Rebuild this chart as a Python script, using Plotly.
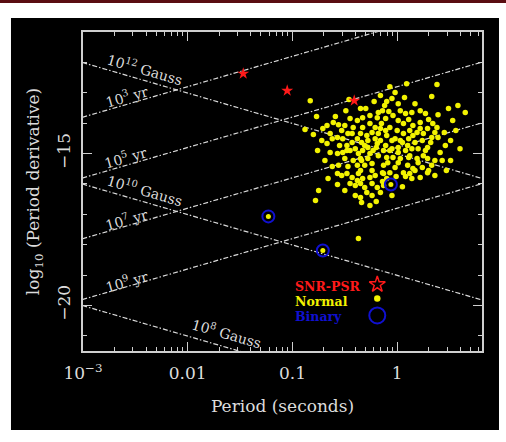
import numpy as np
import plotly.graph_objects as go

# ---- pulsar data: log10 period [s] and log10 period derivative [s/s] ----
normal_logp = [
    -0.83, -0.46, -0.77, -0.88, -0.07, 0.09, 0.38, 0.33, 0.17, 0.58,
    0.65, 0.39, -0.05, -0.10, -0.12, -0.22, -0.18, -0.59, -0.61, -0.56,
    -0.71, -0.80, -0.64, -0.53, -0.72, -0.67, -0.62, -0.57, -0.52, -0.47,
    -0.55, -0.48, -0.43, -0.64, -0.57, -0.52, -0.45, -0.40, -0.37, -0.33,
    -0.28, -0.23, -0.19, -0.34, -0.42, -0.31, -0.24, -0.62, -0.56, -0.47,
    -0.35, -0.38, -0.33, -0.26, -0.19, -0.42, -0.43, -0.38, -0.34, -0.28,
    -0.21, -0.18, -0.26, -0.21, -0.24, -0.33, -0.35, -0.29, -0.04, 0.30,
    0.34, -0.14, -0.11, -0.15, 0.01, 0.06, 0.11, 0.15, 0.22, 0.36,
    0.39, 0.25, 0.19, 0.12, 0.06, 0.00, -0.07, -0.10, -0.02, 0.05,
    0.11, 0.17, 0.24, 0.32, 0.29, 0.20, 0.14, 0.08, 0.01, -0.05,
    -0.11, 0.41, 0.51, 0.36, 0.25, 0.19, 0.11, 0.03, -0.04, -0.10,
    -0.13, -0.02, 0.10, 0.15, 0.24, 0.30, 0.06, -0.07, -0.57, -0.53,
    -0.48, -0.43, -0.37, -0.33, -0.26, -0.21, -0.57, -0.45, -0.40, -0.35,
    -0.31, -0.24, -0.19, -0.75, -0.78, -0.34, -0.35, -0.24, -0.26, -0.20,
    -0.37, -0.13, -0.01, 0.08, 0.12, 0.14, 0.29, -0.13, 0.05, -0.05,
    -0.14, 0.38, -0.50, -0.45, -0.30, -0.08, 0.03, 0.08, 0.14, 0.22,
    0.27, 0.01, 0.07, -0.16, -0.13, -0.18, -0.09, 0.01, 0.20, 0.33,
    0.29, 0.46, 0.45, 0.51, 0.47, 0.36, 0.22, -0.10, -0.16, -0.29,
    -0.50, -0.40, -0.66, -0.69, -0.76, -0.50, -0.38, -0.28, -0.16, -0.11,
    -0.05, 0.03, 0.10, 0.15, 0.22, 0.29, 0.33, 0.27, 0.12, 0.01,
    -0.07, -0.20, -0.26, -0.31, -0.48, -0.35, -0.24, -0.14, 0.17, 0.43,
    0.56, 0.60, 0.53, 0.49, -0.02, -0.16, -0.35, -0.49, -0.67, -0.38,
]
normal_logpdot = [
    -13.26, -13.22, -13.78, -14.21, -12.80, -12.70, -12.73, -13.12, -13.36, -13.42,
    -13.65, -13.72, -13.19, -13.29, -13.42, -13.29, -13.65, -13.78, -13.98, -14.05,
    -14.18, -14.37, -14.34, -14.24, -14.57, -14.67, -14.51, -14.47, -14.51, -14.34,
    -14.74, -14.74, -14.64, -14.97, -15.00, -14.97, -14.90, -14.84, -15.00, -14.90,
    -14.80, -14.90, -14.67, -15.23, -15.23, -15.39, -15.33, -15.43, -15.39, -15.43,
    -15.56, -13.91, -13.82, -13.75, -13.82, -14.14, -14.34, -14.51, -14.64, -14.57,
    -14.51, -14.34, -14.01, -14.14, -14.31, -14.14, -14.34, -14.41, -13.75, -13.88,
    -14.01, -13.59, -13.85, -14.01, -13.91, -14.01, -13.88, -14.08, -13.98, -14.31,
    -14.47, -14.34, -14.31, -14.24, -14.34, -14.24, -14.14, -14.41, -14.51, -14.64,
    -14.51, -14.64, -14.57, -14.64, -14.80, -14.84, -14.84, -14.90, -14.80, -14.84,
    -14.74, -14.97, -15.23, -15.23, -15.07, -15.16, -15.13, -15.16, -15.13, -15.13,
    -15.39, -15.46, -15.39, -15.49, -15.46, -15.56, -15.63, -15.63, -15.66, -15.72,
    -15.66, -15.79, -15.66, -15.82, -15.79, -15.72, -16.02, -15.99, -16.05, -15.99,
    -16.12, -15.99, -16.12, -16.22, -16.55, -16.61, -16.45, -16.38, -16.71, -16.58,
    -17.80, -15.66, -15.76, -15.76, -15.66, -15.82, -15.63, -16.05, -16.09, -16.38,
    -15.92, -14.14, -14.08, -13.85, -13.52, -13.62, -13.59, -13.68, -13.65, -13.59,
    -13.68, -13.36, -13.16, -14.57, -14.90, -15.07, -15.30, -15.30, -15.30, -15.39,
    -15.16, -14.74, -14.31, -14.57, -15.56, -15.72, -15.79, -15.82, -16.28, -16.28,
    -16.22, -16.38, -15.82, -15.23, -14.90, -15.16, -15.39, -15.16, -14.18, -14.24,
    -14.57, -14.57, -14.74, -14.41, -14.18, -14.18, -14.47, -14.90, -15.07, -14.97,
    -14.90, -14.80, -15.00, -14.74, -14.90, -15.16, -15.56, -15.63, -15.56, -15.23,
    -14.24, -14.84, -13.91, -13.52, -12.99, -13.09, -13.52, -13.59, -14.08, -15.89,
]

binary_logp = [-1.23, -0.71, -0.06]
binary_logpdot = [-17.07, -18.19, -16.02]

snr_logp = [-1.47, -1.05, -0.41]
snr_logpdot = [-12.37, -12.93, -13.26]

# reference lines: constant surface dipole field and constant characteristic age
b_fields_gauss = [1e12, 1e10, 1e8]
ages_yr = [1e3, 1e5, 1e7, 1e9]

YEAR_S = 3.156e7
LINE_COLOR = "#dadada"
TEXT_COLOR = "#dcdcdc"
AXIS_COLOR = "#cfcfcf"
FONT = "DejaVu Serif"
YELLOW = "#f2f200"
RED = "#ff1a1a"
BLUE = "#1010d0"
DASH = "5px,2px,1.5px,2px"

fig = go.Figure()

p_line = np.logspace(-3.2, 1.2, 50)
for b in b_fields_gauss:
    pdot = (b / 3.2e19) ** 2 / p_line
    fig.add_trace(go.Scatter(x=p_line, y=np.log10(pdot), mode="lines",
                             line=dict(color=LINE_COLOR, width=1.2, dash=DASH),
                             hoverinfo="skip", showlegend=False))
for age in ages_yr:
    pdot = p_line / (2 * age * YEAR_S)
    fig.add_trace(go.Scatter(x=p_line, y=np.log10(pdot), mode="lines",
                             line=dict(color=LINE_COLOR, width=1.2, dash=DASH),
                             hoverinfo="skip", showlegend=False))

# normal pulsars
fig.add_trace(go.Scatter(x=10 ** np.array(normal_logp), y=normal_logpdot, mode="markers",
                         marker=dict(symbol="circle", size=5.5, color=YELLOW,
                                     line=dict(width=0)),
                         showlegend=False))
# binaries: yellow core with a blue ring
fig.add_trace(go.Scatter(x=10 ** np.array(binary_logp), y=binary_logpdot, mode="markers",
                         marker=dict(symbol="circle", size=5, color=YELLOW, line=dict(width=0)),
                         showlegend=False))
fig.add_trace(go.Scatter(x=10 ** np.array(binary_logp), y=binary_logpdot, mode="markers",
                         marker=dict(symbol="circle-open", size=12, color=BLUE,
                                     line=dict(width=2, color=BLUE)),
                         showlegend=False))
# pulsars associated with supernova remnants
fig.add_trace(go.Scatter(x=10 ** np.array(snr_logp), y=snr_logpdot, mode="markers",
                         marker=dict(symbol="star", size=9, color=RED, line=dict(width=0)),
                         showlegend=False))

# key in the lower right
key_x = 10 ** -0.19
fig.add_trace(go.Scatter(x=[key_x], y=[-19.31], mode="markers",
                         marker=dict(symbol="star-open", size=12, color=RED,
                                     line=dict(width=1.5, color=RED)), showlegend=False))
fig.add_trace(go.Scatter(x=[key_x], y=[-19.77], mode="markers",
                         marker=dict(symbol="circle", size=6.5, color=YELLOW), showlegend=False))
fig.add_trace(go.Scatter(x=[key_x], y=[-20.33], mode="markers",
                         marker=dict(symbol="circle-open", size=16, color=BLUE,
                                     line=dict(width=2, color=BLUE)), showlegend=False))

for text, y, color in [("SNR-PSR", -19.38, RED), ("Normal", -19.87, YELLOW), ("Binary", -20.36, BLUE)]:
    fig.add_annotation(x=-0.995, y=y, xref="x", yref="y", text="<b>%s</b>" % text,
                       showarrow=False, xanchor="left", yanchor="middle",
                       font=dict(family=FONT, size=12.5, color=color))

# line labels, tilted along their lines
label_font = dict(family=FONT, size=14, color=TEXT_COLOR)
labels = [
    ("10<sup>12</sup> Gauss", -2.41, -12.22, 16),
    ("10<sup>3</sup> yr", -2.58, -13.09, -16),
    ("10<sup>5</sup> yr", -2.59, -15.13, -16),
    ("10<sup>10</sup> Gauss", -2.41, -16.20, 16),
    ("10<sup>7</sup> yr", -2.58, -17.17, -16),
    ("10<sup>9</sup> yr", -2.58, -19.18, -16),
    ("10<sup>8</sup> Gauss", -1.63, -20.92, 16),
]
for text, lx, ly, ang in labels:
    fig.add_annotation(x=lx, y=ly, xref="x", yref="y", text=text, showarrow=False,
                       textangle=ang, font=label_font, xanchor="center", yanchor="middle")

# backdrop: dark panel and a thin maroon rule along the top
fig.add_shape(type="rect", xref="paper", yref="paper", x0=-0.1805, x1=1.0426,
              y0=-0.2476, y1=1.0439, fillcolor="black", line=dict(width=0), layer="below")
fig.add_shape(type="rect", xref="paper", yref="paper", x0=-0.21, x1=1.061,
              y0=1.0909, y1=1.1003, fillcolor="#5a0d12", line=dict(width=0), layer="below")

major_x = [1e-3, 1e-2, 1e-1, 1]
minor_x = [m * d for d in [1e-3, 1e-2, 1e-1, 1] for m in range(2, 10) if m * d < 7]

axis_font = dict(family=FONT, size=17, color=TEXT_COLOR)
fig.update_xaxes(type="log", range=[-3, 0.81], showgrid=False, zeroline=False,
                 showline=True, linecolor=AXIS_COLOR, linewidth=1.8, mirror="allticks",
                 ticks="inside", ticklen=9, tickwidth=1.3, tickcolor=AXIS_COLOR,
                 tickvals=major_x, ticktext=["10<sup>−3</sup>", "0.01", "0.1", "1"],
                 tickfont=axis_font, ticklabelstandoff=6,
                 minor=dict(ticks="inside", ticklen=4, tickwidth=1.3, tickcolor=AXIS_COLOR,
                            tickvals=minor_x, showgrid=False),
                 title=dict(text="Period (seconds)", font=axis_font, standoff=18))
fig.update_yaxes(range=[-21.5, -11], showgrid=False, zeroline=False,
                 showline=True, linecolor=AXIS_COLOR, linewidth=1.8, mirror="allticks",
                 ticks="inside", ticklen=9, tickwidth=1.3, tickcolor=AXIS_COLOR,
                 tickvals=[-20, -15], ticktext=["−20", "−15"], tickangle=-90,
                 tickfont=axis_font, ticklabelstandoff=4,
                 minor=dict(ticks="inside", ticklen=4, tickwidth=1.3, tickcolor=AXIS_COLOR,
                            dtick=1, tick0=-21, showgrid=False),
                 title=dict(text="log<sub>10</sub> (Period derivative)", font=axis_font,
                            standoff=10))

fig.update_layout(width=506, height=442, margin=dict(l=83, r=24, t=32, b=91),
                  paper_bgcolor="white", plot_bgcolor="black", showlegend=False)

fig.write_html("out.html", config={"displayModeBar": False})
